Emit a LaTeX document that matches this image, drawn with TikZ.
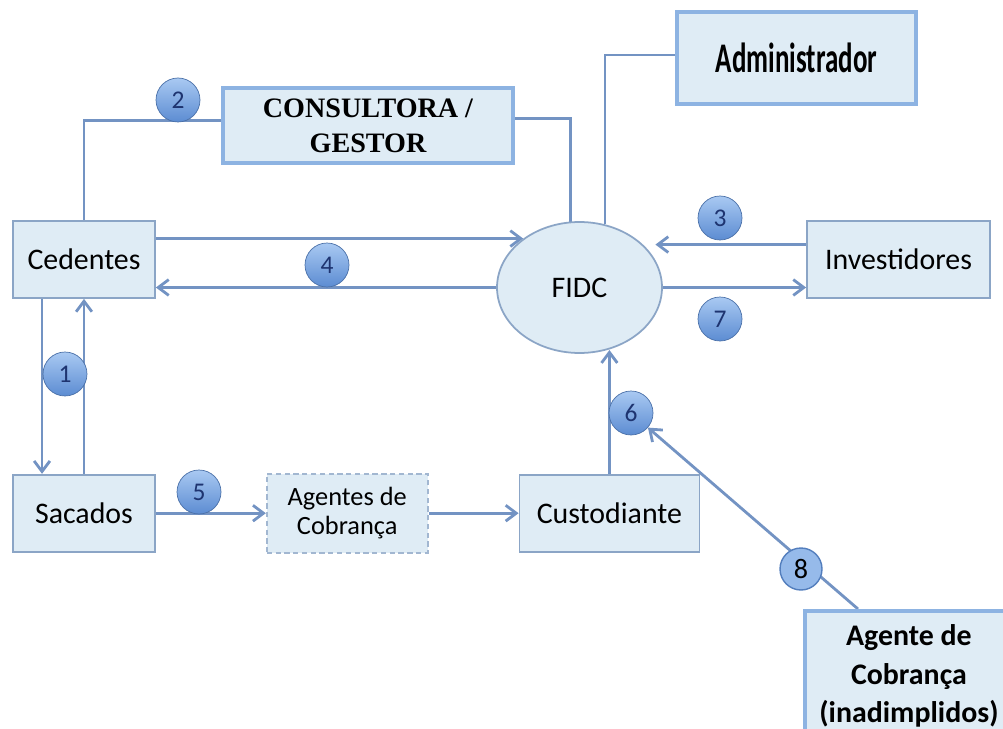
\documentclass[tikz,border=0pt]{standalone}
\usepackage{fontspec}
\setmainfont{Carlito}
\newfontfamily\consfont{Liberation Serif}
\usetikzlibrary{shapes.geometric,arrows.meta,positioning}

\definecolor{boxfill}{HTML}{DFECF5}
\definecolor{boxline}{HTML}{8BA5C6}
\definecolor{bigline}{HTML}{8DB3E2}
\definecolor{linecol}{HTML}{7393C3}
\definecolor{badgetop}{HTML}{A9C9F2}
\definecolor{badgebot}{HTML}{5C8CD2}
\definecolor{badgetxt}{HTML}{1E3470}

\pgfdeclarelayer{bg}
\pgfsetlayers{bg,main}

\tikzset{
  box/.style={draw=boxline, fill=boxfill, line width=1pt, minimum width=2.84cm,
    minimum height=1.54cm, align=center, font=\fontsize{17}{20}\selectfont},
  bigbox/.style={draw=bigline, fill=boxfill, line width=2.2pt, align=center},
  badge/.style={circle, draw=badgebot!80!black, line width=0.4pt, top color=badgetop,
    bottom color=badgebot, minimum size=0.88cm, inner sep=0pt, text=badgetxt,
    font=\fontsize{14.5}{16}\selectfont},
  arr/.style={draw=linecol, line width=1.6pt, -{Straight Barb[length=6pt,width=9pt]}},
  link/.style={draw=linecol, line width=1.6pt}
}

\begin{document}
\begin{tikzpicture}[x=0.02cm, y=-0.02cm]
  \useasboundingbox (0,0) rectangle (1003,729);
  \clip (0,0) rectangle (1003,729);

  \node[box] (ced) at (84,259.5) {Cedentes};
  \node[box] (sac) [below=3.5cm of ced] {Sacados};
  \node[box, dashed, dash pattern=on 3pt off 2pt, draw=boxline!80, minimum width=3.22cm,
    minimum height=1.58cm, font=\fontsize{15}{16.5}\selectfont] (agt) [right=2.2cm of sac] {Agentes de\\Cobrança};
  \node[box, minimum width=3.6cm] (cus) [right=1.8cm of agt] {Custodiante};
  \node[ellipse, draw=boxline, fill=boxfill, line width=1pt, minimum width=3.3cm,
    minimum height=2.62cm, inner sep=0pt, font=\fontsize{17}{20}\selectfont] (fidc) at (579.5,287.5) {FIDC};
  \node[box, minimum width=3.66cm] (inv) at (898.5,259.5) {Investidores};

  \node[bigbox, minimum width=5.8cm, minimum height=1.5cm,
    font=\consfont\bfseries\fontsize{16}{20}\selectfont] (cons) at (368,125.5) {CONSULTORA /\\GESTOR};
  \node[bigbox, minimum width=4.78cm, minimum height=1.84cm] (adm) at (796.5,58)
    {\scalebox{0.64}[1]{\bfseries\fontsize{24}{28}\selectfont Administrador}};
  \node[bigbox, anchor=north west, minimum width=4.16cm, minimum height=2.6cm,
    font=\bfseries\fontsize{17}{22}\selectfont] (agc) at (803,609) {Agente de\\Cobrança\\(inadimplidos)};

  % numbered markers
  \node[badge] (b1) at (65,374) {1};
  \node[badge] (b2) at (178,100) {2};
  \node[badge] (b3) at (720,218) {3};
  \node[badge] (b4) at (327,265) {4};
  \node[badge] (b5) at (199,492) {5};
  \node[badge] (b6) at (631,413) {6};
  \node[badge] (b7) at (720,319) {7};
  \node[circle, draw=badgebot!90!black, fill=badgetop!75!badgebot, line width=0.8pt, minimum size=0.84cm,
    inner sep=0pt, font=\fontsize{16}{18}\selectfont] (b8) at (801,569) {8};

  \begin{pgfonlayer}{bg}
    % consultora / administrador
    \draw[link] (ced.north) |- ([yshift=0.1cm]cons.west);
    \draw[link] ([yshift=0.14cm]cons.east) -| (fidc.98);
    \draw[link] ([yshift=0.06cm]adm.west) -| (fidc.68);

    % cedentes and fidc
    \draw[arr] (ced.east |- fidc.139) -- (fidc.139);
    \draw[arr] (fidc.west) -- (fidc.west -| ced.east);

    % investidores and fidc
    \draw[arr, shorten >=7pt] (inv.west |- fidc.34) -- (fidc.34);
    \draw[arr] (fidc.east) -- (fidc.east -| inv.west);

    % cedentes and sacados
    \draw[arr] ([xshift=-0.84cm]ced.south) -- ([xshift=-0.84cm]sac.north);
    \draw[arr] (sac.north) -- (ced.south);

    % bottom row
    \draw[arr] (sac.east) -- (agt.west);
    \draw[arr] (agt.east) -- (cus.west);
    \draw[arr] (cus.north) -- (cus.north |- fidc.294);

    % agente de cobranca to 6
    \draw[arr] ([xshift=1.1cm]agc.north west) -- (b6);
  \end{pgfonlayer}
\end{tikzpicture}
\end{document}
